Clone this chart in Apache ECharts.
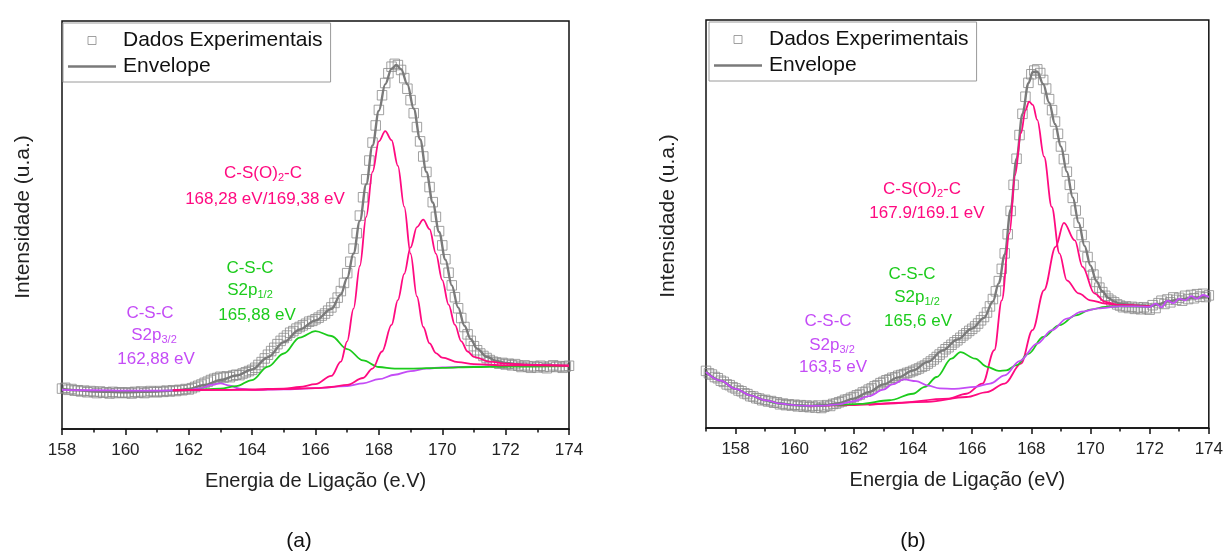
<!DOCTYPE html>
<html>
<head>
<meta charset="utf-8">
<script src="https://cdn.jsdelivr.net/npm/echarts@6/dist/echarts.min.js"></script>
<style>
html,body{margin:0;padding:0;background:#fff;}
#c{width:1226px;height:552px;}
</style>
</head>
<body>
<div id="c"></div>
<script>
// ---------- Tick values ----------
const majorTicksA = [158,160,162,164,166,168,170,172,174];
const minorTicksA = [159,161,163,165,167,169,171,173];
const majorTicksB = [158,160,162,164,166,168,170,172,174];
const minorTicksB = [157,159,161,163,165,167,169,171,173];

// ---------- Panel (a) ----------
const expA_start = 158.0, expA_step = 0.1;
const expA = [
 9.9,10.1,9.6,9.8,9.4,9.5,9.2,9.4,9.0,9.3,
 9.1,8.8,9.2,8.9,9.0,8.7,9.1,8.8,9.0,8.9,
 8.8,9.0,8.7,9.1,8.9,9.2,8.8,9.0,9.3,9.1,
 9.0,9.3,9.1,9.4,9.2,9.5,9.3,9.6,9.5,9.8,
 9.7,10.0,10.3,10.6,10.9,11.3,11.6,12.0,12.3,12.5,
 12.8,12.6,12.9,12.7,13.1,13.3,13.2,13.6,13.9,14.2,
 14.5,15.0,15.7,16.4,17.3,18.2,19.1,19.9,20.8,21.6,
 22.3,22.9,23.6,24.0,24.6,25.0,25.4,25.8,26.3,26.5,
 26.9,27.3,27.8,28.3,29.0,29.8,30.9,32.2,33.8,35.8,
 38.2,41.0,44.2,48.0,52.3,56.8,61.2,65.8,70.2,74.4,
 78.2,81.8,84.8,87.2,88.8,89.5,89.2,88.0,86.0,83.4,
 80.6,77.4,74.0,70.5,66.8,63.0,59.3,55.6,52.0,48.5,
 45.0,41.6,38.3,35.2,32.3,29.6,27.2,25.0,23.2,21.6,
 20.3,19.3,18.5,17.9,17.4,16.9,16.5,16.3,16.0,16.2,
 15.8,16.0,15.6,15.9,15.5,15.2,15.6,15.3,15.0,15.4,
 15.1,15.5,15.2,14.9,15.3,15.6,15.2,15.4,15.0,15.3,
 15.5
];
const envA = [[158,9.8],[158.5,9.5],[159,9.2],[160,9.0],[161,9.2],[161.5,9.4],[162,9.8],[162.5,10.8],[163,12.0],[163.5,13.1],[164,14.6],[164.5,17.6],[165,21.3],[165.5,24.4],[166,26.6],[166.5,29.4],[166.8,33.0],[167,37.0],[167.2,43.0],[167.4,51.0],[167.6,60.0],[167.8,69.5],[168,78.0],[168.2,84.5],[168.4,88.3],[168.55,89.2],[168.7,88.2],[168.9,84.5],[169.1,78.5],[169.3,71.0],[169.5,63.0],[169.7,55.5],[169.9,48.3],[170.1,41.5],[170.3,35.2],[170.5,29.8],[170.7,25.3],[170.9,22.0],[171.1,19.7],[171.4,17.7],[171.7,16.7],[172,16.2],[172.5,15.8],[173,15.6],[174,15.5]];
const red1A = [[161.5,9.5],[163,9.6],[164,9.7],[165,9.9],[165.5,10.3],[166,11.0],[166.5,13.0],[166.8,16.5],[167,21.5],[167.2,29.5],[167.4,40.0],[167.6,52.0],[167.8,63.0],[168,70.5],[168.2,73.0],[168.4,70.8],[168.6,64.5],[168.8,54.5],[169,43.0],[169.2,32.5],[169.4,25.0],[169.6,21.0],[169.8,18.6],[170,17.5],[170.5,16.4],[171,15.9],[172,15.6],[174,15.5]];
const red2A = [[161.5,9.5],[164,9.6],[165,9.8],[166,10.0],[166.5,10.3],[167,10.8],[167.5,12.5],[167.8,14.8],[168.1,19.0],[168.4,25.5],[168.6,31.6],[168.8,38.0],[169,44.5],[169.2,49.5],[169.4,51.3],[169.6,49.0],[169.8,43.0],[170,36.5],[170.2,30.5],[170.4,25.5],[170.6,21.5],[170.8,19.0],[171,17.7],[171.5,16.5],[172,16.0],[173,15.7],[174,15.5]];
const greenA = [[161.5,9.5],[162,9.5],[163,9.9],[163.5,10.5],[164,12.0],[164.5,15.3],[165,18.5],[165.5,22.4],[166,24.0],[166.5,22.8],[167,19.6],[167.5,16.8],[168,15.2],[168.5,14.8],[169,14.8],[170,15.0],[171,15.2],[172,15.3],[174,15.4]];
const purpleA = [[158,9.6],[159,9.5],[160,9.4],[161,9.4],[162,9.5],[162.4,10.0],[162.7,10.8],[163,11.2],[163.3,10.6],[163.6,9.9],[164,9.6],[165,9.7],[166,10.0],[167,10.5],[167.5,11.2],[168,12.2],[168.5,13.3],[169,14.2],[169.5,14.8],[170,15.1],[171,15.3],[172,15.4],[174,15.4]];

// ---------- Panel (b) ----------
const expB_start = 157.0, expB_step = 0.1;
const expB = [
 14.0,13.4,13.1,12.5,12.2,11.6,11.3,10.7,10.5,10.0,
 9.7,9.2,9.0,8.5,8.3,7.8,7.7,7.3,7.2,6.8,
 6.9,6.5,6.6,6.2,6.3,5.8,6.0,5.6,5.8,5.5,
 5.7,5.3,5.6,5.2,5.5,5.1,5.4,5.0,5.5,4.9,
 5.2,5.6,5.4,5.9,6.0,6.3,6.5,6.9,7.0,7.4,
 7.6,8.0,8.2,8.7,8.9,9.4,9.7,10.2,10.5,11.0,
 11.3,11.7,11.9,12.3,12.4,12.8,13.0,13.2,13.5,13.7,
 14.0,14.3,14.6,15.0,15.3,15.8,16.3,16.8,17.4,18.0,
 18.6,19.3,19.8,20.4,21.0,21.5,22.1,22.7,23.2,23.8,
 24.3,24.9,25.6,26.4,27.2,28.3,29.8,31.6,33.5,36.0,
 39.0,42.8,47.5,53.2,59.6,66.0,71.8,77.0,81.2,84.6,
 86.7,87.6,87.9,87.0,85.3,83.2,80.6,77.9,75.1,72.1,
 69.0,65.9,62.8,59.6,56.4,53.3,50.3,47.3,44.5,41.9,
 39.6,37.6,35.8,34.4,33.3,32.4,31.7,31.2,30.8,30.3,
 30.0,29.6,29.8,29.4,29.7,29.2,29.5,29.1,29.6,29.3,
 29.0,30.1,29.4,30.6,31.2,30.4,31.5,30.8,32.0,31.4,
 31.9,31.2,32.4,31.6,32.6,31.8,32.8,32.2,32.9,32.1,
 32.5
];
const envB = [[157,13.8],[157.5,11.6],[158,9.6],[158.5,8.0],[159,6.8],[159.5,6.0],[160,5.6],[160.5,5.4],[161,5.6],[161.5,6.1],[162,7.2],[162.5,8.8],[163,10.7],[163.5,12.4],[164,14.1],[164.5,16.2],[165,19.0],[165.5,21.7],[166,24.4],[166.4,27.0],[166.7,31.0],[166.9,35.5],[167.1,42.5],[167.3,53.5],[167.5,66.0],[167.7,77.0],[167.9,84.5],[168.05,87.3],[168.2,87.3],[168.4,84.3],[168.6,79.8],[168.8,74.5],[169,69.0],[169.2,62.8],[169.4,56.5],[169.6,50.3],[169.8,44.6],[170,39.8],[170.2,36.0],[170.4,33.5],[170.6,31.9],[170.8,31.0],[171,30.4],[171.5,30.0],[172,29.8],[172.3,30.3],[172.6,31.0],[173,31.5],[173.5,32.0],[174,32.2]];
const red1B = [[160.5,5.3],[161.9,5.6],[163.2,6.0],[165.2,7.2],[165.8,8.4],[166.35,10.9],[166.75,19.1],[167,31.3],[167.26,47.7],[167.45,62.0],[167.65,72.2],[167.8,77.8],[167.92,80.0],[168.05,79.2],[168.2,75.5],[168.43,66.5],[168.69,54.2],[168.95,42.8],[169.2,36.2],[169.6,33.0],[170,31.3],[170.5,30.5],[171,30.1],[172,29.8]];
const red2B = [[162.5,5.7],[164.5,6.4],[165.8,7.6],[166.5,8.8],[167.1,10.9],[167.65,15.8],[168.04,24.0],[168.43,33.8],[168.82,44.4],[169.1,50.3],[169.47,46.0],[169.73,39.5],[170.13,33.0],[170.5,30.9],[171,30.1],[172,29.8]];
const greenB = [[159,6.8],[159.5,6.0],[160,5.6],[160.5,5.4],[161,5.5],[161.5,5.7],[162.2,5.9],[163.2,6.8],[164,8.4],[164.4,10.1],[164.8,12.5],[165.3,17.0],[165.6,18.6],[166.1,17.0],[166.5,15.0],[166.9,14.0],[167.15,14.1],[167.5,15.4],[167.9,18.2],[168.4,22.3],[168.95,25.2],[169.5,27.6],[170,29.0],[170.5,29.7],[171,29.8],[172,29.7]];
const purpleB = [[157,13.7],[157.5,11.6],[158,9.6],[158.5,8.0],[159,6.8],[159.5,6.0],[160,5.6],[160.5,5.4],[161,5.5],[161.5,5.8],[162,6.6],[162.5,7.8],[163,9.4],[163.3,10.7],[163.7,11.9],[164.1,11.5],[164.5,10.4],[164.9,9.7],[165.4,9.6],[166.1,10.1],[166.6,10.9],[167.1,12.9],[167.6,16.4],[168.2,20.7],[168.7,24.0],[169.2,26.8],[169.7,28.5],[170.25,29.3],[171,29.8],[171.5,29.8],[172,29.7],[172.2,30.5],[172.4,29.6],[172.6,31.2],[172.8,30.6],[173,31.7],[173.2,31.3],[173.4,32.3],[173.6,31.7],[173.8,32.6],[174,32.1]];

// ---------- Styling ----------
const FONT = "'Liberation Sans', Arial, Helvetica, sans-serif";
const PINK = '#FF0A80', GREEN = '#1CCB1C', PURPLE = '#C44CF6';
const GRAY_LINE = '#7a7a7a', GRAY_SYM = '#8a8a8a';

function toPairs(start, step, vals){ return vals.map((v,i)=>[+(start+i*step).toFixed(2), v]); }

function mainX(grid, min, max, ticks, name){
  return {
    type:'value', gridIndex:grid, min:min, max:max, position:'bottom',
    name:name, nameLocation:'middle', nameGap:42,
    nameTextStyle:{fontFamily:FONT, fontSize:20, color:'#222'},
    axisLine:{show:true, lineStyle:{color:'#111', width:1.5}},
    axisTick:{show:true, inside:false, length:6, lineStyle:{color:'#111', width:1.5}, customValues:ticks},
    axisLabel:{show:true, margin:13, fontFamily:FONT, fontSize:17, color:'#222', customValues:ticks},
    splitLine:{show:false}
  };
}
function minorX(grid, min, max, ticks){
  return {
    type:'value', gridIndex:grid, min:min, max:max, position:'bottom',
    axisLine:{show:false},
    axisTick:{show:true, inside:false, length:3.5, lineStyle:{color:'#111', width:1.5}, customValues:ticks},
    axisLabel:{show:false},
    splitLine:{show:false}
  };
}
function yAx(grid, gap){
  return {
    type:'value', gridIndex:grid, min:0, max:100,
    name:'Intensidade (u.a.)', nameLocation:'middle', nameGap:gap,
    nameTextStyle:{fontFamily:FONT, fontSize:21, color:'#222', padding:[0,0,0,16]},
    axisLine:{show:false}, axisTick:{show:false}, axisLabel:{show:false}, splitLine:{show:false}
  };
}
function lineS(name, data, xi, yi, color, width, z){
  return {type:'line', name:name, data:data, xAxisIndex:xi, yAxisIndex:yi,
    smooth:0.35, smoothMonotone:'x', symbol:'none', z:z,
    lineStyle:{color:color, width:width}, itemStyle:{color:color}, emphasis:{disabled:true}};
}
function scatterS(data, xi, yi){
  return {type:'scatter', name:'Dados Experimentais', data:data, xAxisIndex:xi, yAxisIndex:yi,
    symbol:'rect', symbolSize:9.5, z:2, clip:false,
    itemStyle:{color:'rgba(0,0,0,0)', borderColor:GRAY_SYM, borderWidth:1}, emphasis:{disabled:true}};
}
function legendAt(left, top){
  return {
    left:left, top:top, orient:'vertical', itemWidth:48, itemHeight:8, itemGap:5,
    padding:[7,8,5,5], borderColor:'#9a9a9a', borderWidth:1, backgroundColor:'#fff',
    selectedMode:false, symbolKeepAspect:true,
    textStyle:{fontFamily:FONT, fontSize:21, color:'#111', padding:[0,0,0,2]},
    data:[
      {name:'Dados Experimentais', icon:'path://M0,0H10V10H0Z', itemStyle:{color:'rgba(0,0,0,0)', borderColor:GRAY_SYM, borderWidth:1}},
      {name:'Envelope', icon:'path://M0,0H40V2H0Z', itemStyle:{color:GRAY_LINE, borderWidth:0}}
    ]
  };
}

const richStyles = (color)=>({
  m:{fontFamily:FONT, fontSize:17, color:color, lineHeight:20},
  s:{fontFamily:FONT, fontSize:11, color:color, lineHeight:20, verticalAlign:'bottom', padding:[6,0,0,0]}
});
function ann(x, y, text, color){
  return {type:'text', x:x, y:y, z:50, style:{text:text, fill:color, align:'center', verticalAlign:'middle',
    font:'17px ' + FONT, rich:richStyles(color)}};
}

const option = {
  backgroundColor:'#fff',
  animation:false,
  grid:[
    {left:62, top:21, width:507, height:408, show:true, borderColor:'#111', borderWidth:1.5, containLabel:false},
    {left:706, top:20, width:504, height:408, show:true, borderColor:'#111', borderWidth:1.5, containLabel:false}
  ],
  xAxis:[
    mainX(0,158,174,majorTicksA,'Energia de Ligação (e.V)'),
    minorX(0,158,174,minorTicksA),
    mainX(1,157,174,majorTicksB,'Energia de Ligação (eV)'),
    minorX(1,157,174,minorTicksB)
  ],
  yAxis:[ yAx(0,28), yAx(1,27) ],
  legend:[ legendAt(63,23), legendAt(709,22) ],
  series:[
    scatterS(toPairs(expA_start, expA_step, expA), 0, 0),
    lineS('Envelope', envA, 0, 0, GRAY_LINE, 2.4, 3),
    lineS('purpleA', purpleA, 0, 0, PURPLE, 1.8, 4),
    lineS('greenA', greenA, 0, 0, GREEN, 1.8, 5),
    lineS('red1A', red1A, 0, 0, PINK, 1.8, 6),
    lineS('red2A', red2A, 0, 0, PINK, 1.8, 6),

    scatterS(toPairs(expB_start, expB_step, expB), 2, 1),
    lineS('Envelope', envB, 2, 1, GRAY_LINE, 2.4, 3),
    lineS('red1B', red1B, 2, 1, PINK, 1.8, 4),
    lineS('red2B', red2B, 2, 1, PINK, 1.8, 4),
    lineS('greenB', greenB, 2, 1, GREEN, 1.8, 5),
    lineS('purpleB', purpleB, 2, 1, PURPLE, 1.8, 6)
  ],
  graphic:[
    ann(263,173,'{m|C-S(O)}{s|2}{m|-C}',PINK),
    ann(265,199,'168,28 eV/169,38 eV',PINK),
    ann(250,268,'C-S-C',GREEN),
    ann(250,290,'{m|S2p}{s|1/2}',GREEN),
    ann(257,315,'165,88 eV',GREEN),
    ann(150,313,'C-S-C',PURPLE),
    ann(154,335,'{m|S2p}{s|3/2}',PURPLE),
    ann(156,359,'162,88 eV',PURPLE),

    ann(922,189,'{m|C-S(O)}{s|2}{m|-C}',PINK),
    ann(927,213,'167.9/169.1 eV',PINK),
    ann(912,274,'C-S-C',GREEN),
    ann(917,297,'{m|S2p}{s|1/2}',GREEN),
    ann(918,321,'165,6 eV',GREEN),
    ann(828,321,'C-S-C',PURPLE),
    ann(832,345,'{m|S2p}{s|3/2}',PURPLE),
    ann(833,367,'163,5 eV',PURPLE),

    {type:'text', x:299, y:541, style:{text:'(a)', fill:'#111', align:'center', verticalAlign:'middle', font:'21px ' + FONT}},
    {type:'text', x:913, y:541, style:{text:'(b)', fill:'#111', align:'center', verticalAlign:'middle', font:'21px ' + FONT}}
  ]
};

const chart = echarts.init(document.getElementById('c'), null, {renderer:'canvas'});
chart.setOption(option);
</script>
</body>
</html>
